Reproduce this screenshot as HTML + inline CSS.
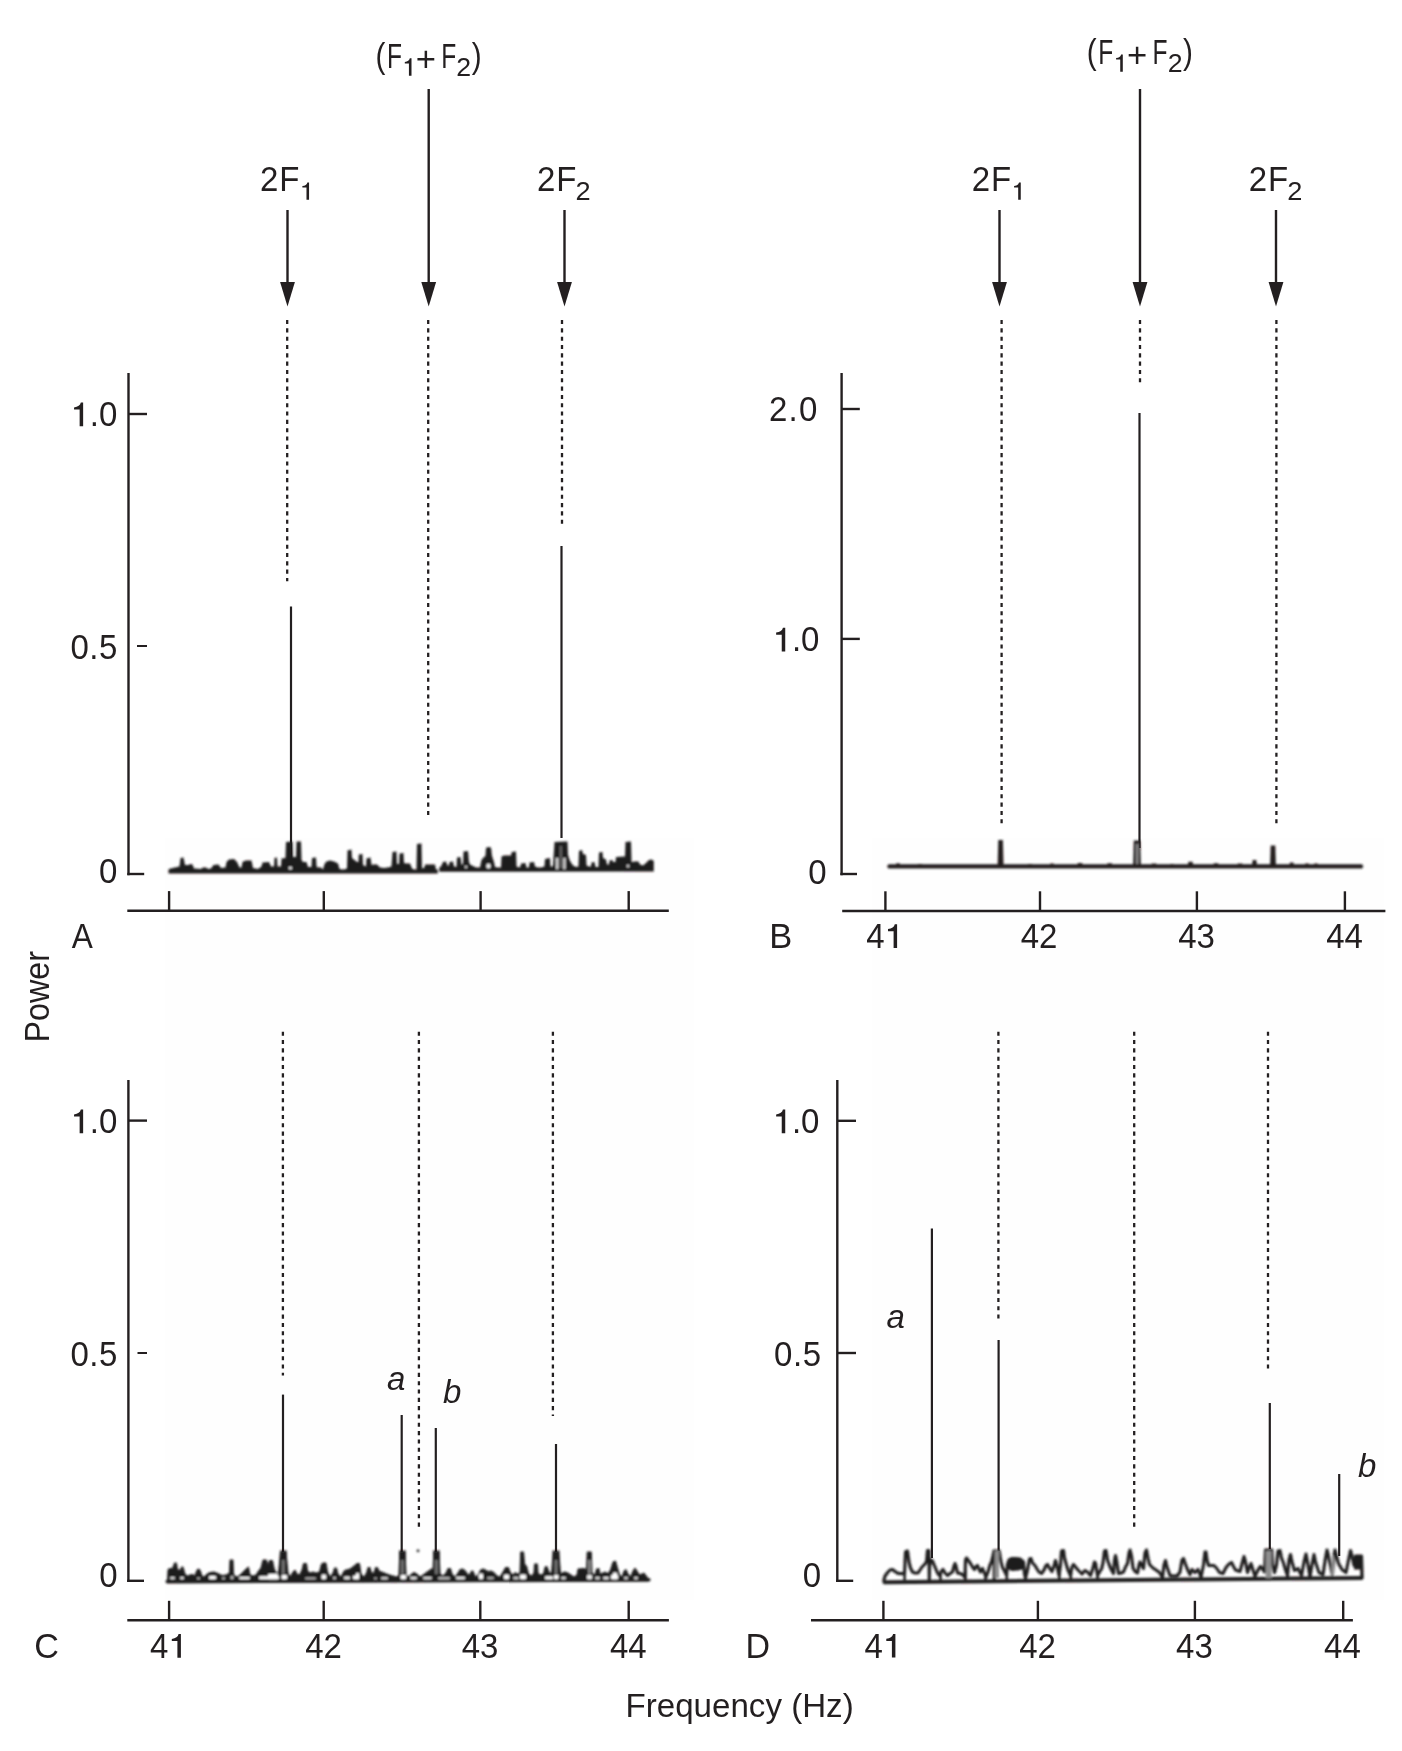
<!DOCTYPE html>
<html><head><meta charset="utf-8"><title>Power spectra</title>
<style>
html,body{margin:0;padding:0;background:#fff;}
body{width:1402px;height:1751px;overflow:hidden;font-family:"Liberation Sans",sans-serif;}
svg{display:block;will-change:transform;}
svg text{font-family:"Liberation Sans",sans-serif;fill:#231f20;}
</style></head><body>
<svg width="1402" height="1751" viewBox="0 0 1402 1751">
<rect x="165" y="838" width="529" height="762" fill="#fefefe"/>
<rect x="872" y="838" width="512" height="762" fill="#fefefe"/>
<line x1="128.5" y1="373" x2="128.5" y2="875.2" stroke="#231f20" stroke-width="2.4" />
<line x1="128.5" y1="414" x2="147" y2="414" stroke="#231f20" stroke-width="2.4" />
<line x1="137" y1="646" x2="147" y2="646" stroke="#231f20" stroke-width="2.0" />
<line x1="127.3" y1="874" x2="144.2" y2="874" stroke="#231f20" stroke-width="2.4" />
<line x1="127.3" y1="910.8" x2="668.8" y2="910.8" stroke="#231f20" stroke-width="2.4" />
<line x1="169.1" y1="891.1" x2="169.1" y2="910.7" stroke="#231f20" stroke-width="2.4" />
<line x1="323.8" y1="891.1" x2="323.8" y2="910.7" stroke="#231f20" stroke-width="2.4" />
<line x1="480.6" y1="891.1" x2="480.6" y2="910.7" stroke="#231f20" stroke-width="2.4" />
<line x1="628.7" y1="891.1" x2="628.7" y2="910.7" stroke="#231f20" stroke-width="2.4" />
<path transform="translate(83.13999999999999 426.2) scale(1.0)" d="M0,0 L0,-23.7 L-2.3,-23.7 Q-3.3,-19.5 -9.1,-18.8 L-9.1,-16.7 L-3.5,-16.7 L-3.5,0 Z" fill="#231f20"/>
<text x="89.87" y="426.2" font-size="34.32" text-anchor="start" transform="translate(89.87 426.2) scale(0.9615 1) translate(-89.87 -426.2)"  style="">.0</text>
<text x="70.41" y="658.6" font-size="34.32" text-anchor="start" transform="translate(70.41 658.6) scale(0.9615 1) translate(-70.41 -658.6)"  letter-spacing="0.6" style="">0.5</text>
<text x="99.04" y="883.4" font-size="34.32" text-anchor="start" transform="translate(99.04 883.4) scale(0.9615 1) translate(-99.04 -883.4)"  style="">0</text>
<text x="71.74" y="948.2" font-size="34.32" text-anchor="start" transform="translate(71.74 948.2) scale(0.9212 1) translate(-71.74 -948.2)"  style="">A</text>
<line x1="841.6" y1="373" x2="841.6" y2="875.2" stroke="#231f20" stroke-width="2.4" />
<line x1="841.6" y1="409" x2="859.8" y2="409" stroke="#231f20" stroke-width="2.4" />
<line x1="841.6" y1="638.9" x2="859.8" y2="638.9" stroke="#231f20" stroke-width="2.4" />
<line x1="840.4" y1="874" x2="857" y2="874" stroke="#231f20" stroke-width="2.4" />
<line x1="842.2" y1="911" x2="1385.4" y2="911" stroke="#231f20" stroke-width="2.4" />
<line x1="885.4" y1="891.3" x2="885.4" y2="911" stroke="#231f20" stroke-width="2.4" />
<line x1="1040" y1="891.3" x2="1040" y2="911" stroke="#231f20" stroke-width="2.4" />
<line x1="1196.9" y1="891.3" x2="1196.9" y2="911" stroke="#231f20" stroke-width="2.4" />
<line x1="1344.9" y1="891.3" x2="1344.9" y2="911" stroke="#231f20" stroke-width="2.4" />
<text x="769.11" y="421.4" font-size="34.32" text-anchor="start" transform="translate(769.11 421.4) scale(0.9615 1) translate(-769.11 -421.4)"  letter-spacing="1.2" style="">2.0</text>
<path transform="translate(785.24 651.4) scale(1.0)" d="M0,0 L0,-23.7 L-2.3,-23.7 Q-3.3,-19.5 -9.1,-18.8 L-9.1,-16.7 L-3.5,-16.7 L-3.5,0 Z" fill="#231f20"/>
<text x="791.97" y="651.4" font-size="34.32" text-anchor="start" transform="translate(791.97 651.4) scale(0.9615 1) translate(-791.97 -651.4)"  style="">.0</text>
<text x="808.34" y="883.7" font-size="34.32" text-anchor="start" transform="translate(808.34 883.7) scale(0.9615 1) translate(-808.34 -883.7)"  style="">0</text>
<text x="769.17" y="947.9" font-size="34.32" text-anchor="start" transform="translate(769.17 947.9) scale(1.0048 1) translate(-769.17 -947.9)"  style="">B</text>
<text x="866.14" y="947.9" font-size="34.32" text-anchor="start" transform="translate(866.14 947.9) scale(0.9615 1) translate(-866.14 -947.9)"  style="">4</text>
<path transform="translate(897.1 947.9) scale(1.0)" d="M0,0 L0,-23.7 L-2.3,-23.7 Q-3.3,-19.5 -9.1,-18.8 L-9.1,-16.7 L-3.5,-16.7 L-3.5,0 Z" fill="#231f20"/>
<text x="1039" y="947.9" font-size="34.32" text-anchor="middle" transform="translate(1039 947.9) scale(0.9615 1) translate(-1039 -947.9)"  style="">42</text>
<text x="1196.5" y="947.9" font-size="34.32" text-anchor="middle" transform="translate(1196.5 947.9) scale(0.9615 1) translate(-1196.5 -947.9)"  style="">43</text>
<text x="1344.5" y="947.9" font-size="34.32" text-anchor="middle" transform="translate(1344.5 947.9) scale(0.9615 1) translate(-1344.5 -947.9)"  style="">44</text>
<line x1="128.4" y1="1080" x2="128.4" y2="1582.0" stroke="#231f20" stroke-width="2.4" />
<line x1="128.4" y1="1120.6" x2="147" y2="1120.6" stroke="#231f20" stroke-width="2.4" />
<line x1="137.5" y1="1353" x2="147" y2="1353" stroke="#231f20" stroke-width="2.0" />
<line x1="127.2" y1="1580.8" x2="144" y2="1580.8" stroke="#231f20" stroke-width="2.4" />
<line x1="127.3" y1="1620.3" x2="668.9" y2="1620.3" stroke="#231f20" stroke-width="2.4" />
<line x1="169.1" y1="1600.8" x2="169.1" y2="1620.3" stroke="#231f20" stroke-width="2.4" />
<line x1="323.7" y1="1600.8" x2="323.7" y2="1620.3" stroke="#231f20" stroke-width="2.4" />
<line x1="480.3" y1="1600.8" x2="480.3" y2="1620.3" stroke="#231f20" stroke-width="2.4" />
<line x1="628.7" y1="1600.8" x2="628.7" y2="1620.3" stroke="#231f20" stroke-width="2.4" />
<path transform="translate(83.13999999999999 1133.2) scale(1.0)" d="M0,0 L0,-23.7 L-2.3,-23.7 Q-3.3,-19.5 -9.1,-18.8 L-9.1,-16.7 L-3.5,-16.7 L-3.5,0 Z" fill="#231f20"/>
<text x="89.87" y="1133.2" font-size="34.32" text-anchor="start" transform="translate(89.87 1133.2) scale(0.9615 1) translate(-89.87 -1133.2)"  style="">.0</text>
<text x="70.41" y="1365.6" font-size="34.32" text-anchor="start" transform="translate(70.41 1365.6) scale(0.9615 1) translate(-70.41 -1365.6)"  letter-spacing="0.6" style="">0.5</text>
<text x="99.24" y="1587.5" font-size="34.32" text-anchor="start" transform="translate(99.24 1587.5) scale(0.9615 1) translate(-99.24 -1587.5)"  style="">0</text>
<text x="34.17" y="1658" font-size="34.32" text-anchor="start" transform="translate(34.17 1658) scale(0.9952 1) translate(-34.17 -1658)"  style="">C</text>
<text x="149.94" y="1657.7" font-size="34.32" text-anchor="start" transform="translate(149.94 1657.7) scale(0.9615 1) translate(-149.94 -1657.7)"  style="">4</text>
<path transform="translate(180.89999999999998 1657.7) scale(1.0)" d="M0,0 L0,-23.7 L-2.3,-23.7 Q-3.3,-19.5 -9.1,-18.8 L-9.1,-16.7 L-3.5,-16.7 L-3.5,0 Z" fill="#231f20"/>
<text x="323.5" y="1657.7" font-size="34.32" text-anchor="middle" transform="translate(323.5 1657.7) scale(0.9615 1) translate(-323.5 -1657.7)"  style="">42</text>
<text x="480" y="1657.7" font-size="34.32" text-anchor="middle" transform="translate(480 1657.7) scale(0.9615 1) translate(-480 -1657.7)"  style="">43</text>
<text x="628.3" y="1657.7" font-size="34.32" text-anchor="middle" transform="translate(628.3 1657.7) scale(0.9615 1) translate(-628.3 -1657.7)"  style="">44</text>
<line x1="837.3" y1="1080" x2="837.3" y2="1582.0" stroke="#231f20" stroke-width="2.4" />
<line x1="837.3" y1="1120.8" x2="856" y2="1120.8" stroke="#231f20" stroke-width="2.4" />
<line x1="837.3" y1="1353" x2="856" y2="1353" stroke="#231f20" stroke-width="2.4" />
<line x1="836.1" y1="1580.8" x2="853.2" y2="1580.8" stroke="#231f20" stroke-width="2.4" />
<line x1="811" y1="1620.3" x2="1352.9" y2="1620.3" stroke="#231f20" stroke-width="2.4" />
<line x1="883.4" y1="1600.8" x2="883.4" y2="1620.3" stroke="#231f20" stroke-width="2.4" />
<line x1="1037.9" y1="1600.8" x2="1037.9" y2="1620.3" stroke="#231f20" stroke-width="2.4" />
<line x1="1194.9" y1="1600.8" x2="1194.9" y2="1620.3" stroke="#231f20" stroke-width="2.4" />
<line x1="1343.2" y1="1600.8" x2="1343.2" y2="1620.3" stroke="#231f20" stroke-width="2.4" />
<path transform="translate(785.24 1133.2) scale(1.0)" d="M0,0 L0,-23.7 L-2.3,-23.7 Q-3.3,-19.5 -9.1,-18.8 L-9.1,-16.7 L-3.5,-16.7 L-3.5,0 Z" fill="#231f20"/>
<text x="791.97" y="1133.2" font-size="34.32" text-anchor="start" transform="translate(791.97 1133.2) scale(0.9615 1) translate(-791.97 -1133.2)"  style="">.0</text>
<text x="774.11" y="1365.6" font-size="34.32" text-anchor="start" transform="translate(774.11 1365.6) scale(0.9615 1) translate(-774.11 -1365.6)"  letter-spacing="0.6" style="">0.5</text>
<text x="802.64" y="1587.5" font-size="34.32" text-anchor="start" transform="translate(802.64 1587.5) scale(0.9615 1) translate(-802.64 -1587.5)"  style="">0</text>
<text x="745.61" y="1657.7" font-size="34.32" text-anchor="start" transform="translate(745.61 1657.7) scale(0.9904 1) translate(-745.61 -1657.7)"  style="">D</text>
<text x="864.44" y="1657.6" font-size="34.32" text-anchor="start" transform="translate(864.44 1657.6) scale(0.9615 1) translate(-864.44 -1657.6)"  style="">4</text>
<path transform="translate(895.4000000000001 1657.6) scale(1.0)" d="M0,0 L0,-23.7 L-2.3,-23.7 Q-3.3,-19.5 -9.1,-18.8 L-9.1,-16.7 L-3.5,-16.7 L-3.5,0 Z" fill="#231f20"/>
<text x="1037.6" y="1657.6" font-size="34.32" text-anchor="middle" transform="translate(1037.6 1657.6) scale(0.9615 1) translate(-1037.6 -1657.6)"  style="">42</text>
<text x="1194.4" y="1657.6" font-size="34.32" text-anchor="middle" transform="translate(1194.4 1657.6) scale(0.9615 1) translate(-1194.4 -1657.6)"  style="">43</text>
<text x="1342.4" y="1657.6" font-size="34.32" text-anchor="middle" transform="translate(1342.4 1657.6) scale(0.9615 1) translate(-1342.4 -1657.6)"  style="">44</text>
<line x1="287.5" y1="210" x2="287.5" y2="284.5" stroke="#231f20" stroke-width="2.4" />
<polygon points="280.1,282.1 294.9,282.1 287.5,306.5" fill="#231f20"/>
<line x1="428.7" y1="89" x2="428.7" y2="284.5" stroke="#231f20" stroke-width="2.4" />
<polygon points="421.3,282.1 436.09999999999997,282.1 428.7,306.5" fill="#231f20"/>
<line x1="564.5" y1="210" x2="564.5" y2="284.5" stroke="#231f20" stroke-width="2.4" />
<polygon points="557.1,282.1 571.9,282.1 564.5,306.5" fill="#231f20"/>
<line x1="999.5" y1="210" x2="999.5" y2="284.5" stroke="#231f20" stroke-width="2.4" />
<polygon points="992.1,282.1 1006.9,282.1 999.5,306.5" fill="#231f20"/>
<line x1="1140" y1="89" x2="1140" y2="284.5" stroke="#231f20" stroke-width="2.4" />
<polygon points="1132.6,282.1 1147.4,282.1 1140,306.5" fill="#231f20"/>
<line x1="1276" y1="210" x2="1276" y2="284.5" stroke="#231f20" stroke-width="2.4" />
<polygon points="1268.6,282.1 1283.4,282.1 1276,306.5" fill="#231f20"/>
<text x="260.04" y="190.9" font-size="34.32" text-anchor="start" transform="translate(260.04 190.9) scale(0.9615 1) translate(-260.04 -190.9)" letter-spacing="1" style="">2F</text>
<path transform="translate(309.06 199.8) scale(0.734)" d="M0,0 L0,-23.7 L-2.3,-23.7 Q-3.3,-19.5 -9.1,-18.8 L-9.1,-16.7 L-3.5,-16.7 L-3.5,0 Z" fill="#231f20"/>
<text x="537.04" y="190.9" font-size="34.32" text-anchor="start" transform="translate(537.04 190.9) scale(0.9615 1) translate(-537.04 -190.9)" letter-spacing="1" style="">2F</text>
<text x="575.53" y="199.8" font-size="25.27" text-anchor="start" transform="translate(575.53 199.8) scale(1.0769 1) translate(-575.53 -199.8)"  style="">2</text>
<text x="375.46" y="67.8" font-size="34.32" text-anchor="start" transform="translate(375.46 67.8) scale(0.8654 1) translate(-375.46 -67.8)"  style="">(</text>
<text x="386.98" y="67.8" font-size="34.32" text-anchor="start" transform="translate(386.98 67.8) scale(0.7163 1) translate(-386.98 -67.8)"  style="">F</text>
<path transform="translate(411.5 75.7) scale(0.735)" d="M0,0 L0,-23.7 L-2.3,-23.7 Q-3.3,-19.5 -9.1,-18.8 L-9.1,-16.7 L-3.5,-16.7 L-3.5,0 Z" fill="#231f20"/>
<text x="415.81" y="70.7" font-size="34.32" text-anchor="start" transform="translate(415.81 70.7) scale(1.0096 1) translate(-415.81 -70.7)"  style="">+</text>
<text x="441.18" y="67.8" font-size="34.32" text-anchor="start" transform="translate(441.18 67.8) scale(0.7163 1) translate(-441.18 -67.8)"  style="">F</text>
<text x="456.36" y="75.7" font-size="25.27" text-anchor="start" transform="translate(456.36 75.7) scale(1.0577 1) translate(-456.36 -75.7)"  style="">2</text>
<text x="471.65" y="67.8" font-size="34.32" text-anchor="start" transform="translate(471.65 67.8) scale(0.8654 1) translate(-471.65 -67.8)"  style="">)</text>
<text x="971.74" y="190.9" font-size="34.32" text-anchor="start" transform="translate(971.74 190.9) scale(0.9615 1) translate(-971.74 -190.9)" letter-spacing="1" style="">2F</text>
<path transform="translate(1020.76 199.8) scale(0.734)" d="M0,0 L0,-23.7 L-2.3,-23.7 Q-3.3,-19.5 -9.1,-18.8 L-9.1,-16.7 L-3.5,-16.7 L-3.5,0 Z" fill="#231f20"/>
<text x="1248.64" y="190.9" font-size="34.32" text-anchor="start" transform="translate(1248.64 190.9) scale(0.9615 1) translate(-1248.64 -190.9)" letter-spacing="1" style="">2F</text>
<text x="1287.13" y="199.8" font-size="25.27" text-anchor="start" transform="translate(1287.13 199.8) scale(1.0769 1) translate(-1287.13 -199.8)"  style="">2</text>
<text x="1086.76" y="63.9" font-size="34.32" text-anchor="start" transform="translate(1086.76 63.9) scale(0.8654 1) translate(-1086.76 -63.9)"  style="">(</text>
<text x="1098.28" y="63.9" font-size="34.32" text-anchor="start" transform="translate(1098.28 63.9) scale(0.7163 1) translate(-1098.28 -63.9)"  style="">F</text>
<path transform="translate(1122.8 71.8) scale(0.735)" d="M0,0 L0,-23.7 L-2.3,-23.7 Q-3.3,-19.5 -9.1,-18.8 L-9.1,-16.7 L-3.5,-16.7 L-3.5,0 Z" fill="#231f20"/>
<text x="1127.11" y="66.8" font-size="34.32" text-anchor="start" transform="translate(1127.11 66.8) scale(1.0096 1) translate(-1127.11 -66.8)"  style="">+</text>
<text x="1152.48" y="63.9" font-size="34.32" text-anchor="start" transform="translate(1152.48 63.9) scale(0.7163 1) translate(-1152.48 -63.9)"  style="">F</text>
<text x="1167.66" y="71.8" font-size="25.27" text-anchor="start" transform="translate(1167.66 71.8) scale(1.0577 1) translate(-1167.66 -71.8)"  style="">2</text>
<text x="1182.95" y="63.9" font-size="34.32" text-anchor="start" transform="translate(1182.95 63.9) scale(0.8654 1) translate(-1182.95 -63.9)"  style="">)</text>
<line x1="287.2" y1="320" x2="287.2" y2="581.3" stroke="#231f20" stroke-width="2.3" stroke-dasharray="4.1 4.22"/>
<line x1="428.2" y1="320" x2="428.2" y2="816" stroke="#231f20" stroke-width="2.3" stroke-dasharray="4.1 4.22"/>
<line x1="562" y1="320" x2="562" y2="524.6" stroke="#231f20" stroke-width="2.3" stroke-dasharray="4.1 4.22"/>
<line x1="1001.6" y1="320" x2="1001.6" y2="824" stroke="#231f20" stroke-width="2.3" stroke-dasharray="4.1 4.22"/>
<line x1="1140" y1="320" x2="1140" y2="382.8" stroke="#231f20" stroke-width="2.3" stroke-dasharray="4.1 4.22"/>
<line x1="1276.4" y1="320" x2="1276.4" y2="824" stroke="#231f20" stroke-width="2.3" stroke-dasharray="4.1 4.22"/>
<line x1="282.9" y1="1031.7" x2="282.9" y2="1375.6" stroke="#231f20" stroke-width="2.3" stroke-dasharray="4.1 4.22"/>
<line x1="418.9" y1="1031.7" x2="418.9" y2="1527.6" stroke="#231f20" stroke-width="2.3" stroke-dasharray="4.1 4.22"/>
<line x1="552.9" y1="1031.7" x2="552.9" y2="1416" stroke="#231f20" stroke-width="2.3" stroke-dasharray="4.1 4.22"/>
<line x1="998.4" y1="1031.7" x2="998.4" y2="1318.6" stroke="#231f20" stroke-width="2.3" stroke-dasharray="4.1 4.22"/>
<line x1="1134.2" y1="1031.7" x2="1134.2" y2="1527.6" stroke="#231f20" stroke-width="2.3" stroke-dasharray="4.1 4.22"/>
<line x1="1268" y1="1031.7" x2="1268" y2="1369.4" stroke="#231f20" stroke-width="2.3" stroke-dasharray="4.1 4.22"/>
<line x1="291" y1="606.5" x2="291" y2="860" stroke="#231f20" stroke-width="2.2" />
<line x1="561.5" y1="546" x2="561.5" y2="838" stroke="#231f20" stroke-width="2.2" />
<line x1="1139.5" y1="413" x2="1139.5" y2="848" stroke="#231f20" stroke-width="2.2" />
<line x1="283.0" y1="1394.6" x2="283.0" y2="1552" stroke="#231f20" stroke-width="2.2" />
<line x1="401.7" y1="1415" x2="401.7" y2="1552" stroke="#231f20" stroke-width="2.2" />
<line x1="435.8" y1="1428" x2="435.8" y2="1552" stroke="#231f20" stroke-width="2.2" />
<line x1="556" y1="1444" x2="556" y2="1552" stroke="#231f20" stroke-width="2.2" />
<line x1="931.9" y1="1228.5" x2="931.9" y2="1558" stroke="#231f20" stroke-width="2.2" />
<line x1="998.6" y1="1340" x2="998.6" y2="1551" stroke="#231f20" stroke-width="2.2" />
<line x1="1269.8" y1="1403" x2="1269.8" y2="1549" stroke="#231f20" stroke-width="2.2" />
<line x1="1339.2" y1="1474" x2="1339.2" y2="1556" stroke="#231f20" stroke-width="2.2" />
<text x="387" y="1390" font-size="33" text-anchor="start" transform="translate(387 1390) scale(1.0 1) translate(-387 -1390)"  style="font-style:italic">a</text>
<text x="443" y="1402.5" font-size="33" text-anchor="start" transform="translate(443 1402.5) scale(1.0 1) translate(-443 -1402.5)"  style="font-style:italic">b</text>
<text x="886.4" y="1328" font-size="33" text-anchor="start" transform="translate(886.4 1328) scale(1.0 1) translate(-886.4 -1328)"  style="font-style:italic">a</text>
<text x="1358" y="1477.2" font-size="33" text-anchor="start" transform="translate(1358 1477.2) scale(1.0 1) translate(-1358 -1477.2)"  style="font-style:italic">b</text>
<text x="49.4" y="996.8" font-size="34.32" text-anchor="middle" transform="rotate(-90 49.4 996.8) translate(49.4 996.8) scale(0.9423 1) translate(-49.4 -996.8)"  style="">Power</text>
<text x="739.6" y="1716.8" font-size="33.4" text-anchor="middle" transform="translate(739.6 1716.8) scale(0.9921 1) translate(-739.6 -1716.8)"  style="">Frequency (Hz)</text>
<defs><filter id="soft" x="-2%" y="-20%" width="104%" height="140%"><feGaussianBlur stdDeviation="0.8"/></filter></defs>
<g filter="url(#soft)"><polygon points="168.5,869.6 170.5,868.5 179.5,866.5 180.5,858.0 183.5,857.5 185.0,865.0 189.0,865.0 190.0,864.0 192.5,864.5 194.0,868.5 201.0,869.0 203.0,867.5 206.0,867.5 208.0,869.0 211.0,868.5 213.5,865.0 218.5,864.5 221.0,868.0 225.5,867.5 226.5,862.0 229.0,859.5 234.0,859.0 237.0,862.0 239.5,867.5 241.5,867.5 242.5,862.0 244.5,861.0 246.0,860.5 251.5,860.5 253.0,868.0 258.0,869.0 261.5,866.5 262.5,862.5 269.0,862.0 271.0,866.5 274.0,866.5 274.5,858.0 277.0,857.5 277.5,866.5 281.0,866.5 281.5,858.5 285.5,858.0 286.0,842.0 292.5,841.5 293.0,857.0 296.0,857.0 296.5,841.5 301.0,841.5 301.5,860.0 303.0,862.0 306.5,862.0 308.0,867.0 311.5,867.0 312.0,858.0 316.0,857.5 316.5,866.5 318.0,867.5 321.0,867.5 323.0,869.5 324.5,864.0 326.5,861.5 330.0,860.5 334.0,861.5 338.0,863.5 339.5,869.0 342.0,869.6 344.0,869.5 347.0,868.5 347.5,850.5 351.5,849.5 352.0,858.0 354.5,860.0 357.0,862.0 358.5,862.0 358.8,854.5 362.5,854.0 363.0,865.0 366.0,866.5 366.5,858.5 370.5,857.5 371.5,865.0 374.0,864.5 377.0,864.5 380.0,867.5 384.0,868.0 388.0,867.5 391.5,866.5 392.5,852.0 396.5,851.5 397.0,864.0 399.0,864.0 399.5,853.5 403.5,853.0 404.0,863.0 406.0,863.5 410.0,863.5 412.0,868.5 414.0,869.6 416.5,869.5 417.0,844.0 421.5,843.5 422.0,868.5 424.5,867.5 425.0,864.5 435.0,864.5 436.0,869.5 437.8,869.6 437.8,873.6 168.5,873.6" fill="#1f1b1c"/>
<polygon points="439.3,867.4 441.0,866.4 443.0,862.0 446.0,861.5 447.5,865.4 449.0,865.4 449.5,862.0 453.0,861.5 454.0,866.4 456.5,866.9 457.0,857.5 460.5,857.0 461.5,864.4 463.0,864.4 463.5,851.5 468.0,851.0 469.0,862.0 470.0,864.4 473.0,865.9 476.0,867.4 480.0,867.4 481.5,860.0 483.5,857.5 485.5,856.0 486.0,848.0 488.0,847.0 491.0,847.5 492.0,856.0 494.0,862.0 495.0,866.9 498.0,867.4 501.0,867.4 501.5,856.5 504.0,855.5 511.0,855.5 511.8,852.0 516.0,851.5 516.5,866.4 519.0,867.4 520.5,866.4 521.0,863.5 525.5,863.0 526.5,867.4 529.0,867.4 529.5,862.5 534.0,862.0 535.0,866.4 538.0,867.4 541.0,867.4 544.5,866.4 545.0,859.0 550.0,858.0 550.5,866.4 553.0,866.4 554.5,842.0 567.5,841.5 568.0,855.0 570.0,861.0 573.0,865.4 576.0,866.9 578.5,866.4 579.0,851.0 582.0,850.0 583.0,854.0 586.0,855.0 586.5,865.4 589.0,866.4 591.0,866.4 591.5,862.5 594.5,862.0 595.5,866.9 598.5,866.9 599.0,852.5 602.5,852.0 603.0,858.0 606.0,859.5 607.0,864.4 609.0,864.4 609.5,860.5 612.5,860.0 613.0,862.0 615.5,862.0 616.0,857.0 625.0,856.5 625.5,842.0 631.0,841.5 631.5,862.0 633.0,862.0 634.0,861.5 638.5,861.5 640.0,864.4 643.0,865.4 646.0,863.0 649.0,860.0 651.5,859.5 653.8,861.0 653.8,871.6 439.3,871.8" fill="#1f1b1c"/>
<ellipse cx="290.3" cy="868" rx="1.8" ry="1.6" fill="#e8e8e8"/>
<ellipse cx="488.5" cy="866" rx="2.2" ry="2.6" fill="#f2f2f2"/>
<ellipse cx="628" cy="866" rx="1.5" ry="1.5" fill="#cfcfcf"/>
<ellipse cx="466" cy="867" rx="1.3" ry="1.3" fill="#cfcfcf"/>
<rect x="556" y="858" width="2.4" height="11" fill="#d8d8d8"/>
<rect x="563.2" y="858" width="2.4" height="11" fill="#d8d8d8"/>
<rect x="559.8" y="846" width="2" height="22" fill="#6a6a6a"/>
</g>
<g filter="url(#soft)"><polygon points="887.0,866.4 888.5,864.3 895.9,864.3 896.5,863.2 899.5,863.2 900.1,864.3 917.4,864.3 918.0,864.1 922.0,864.1 922.6,864.3 942.4,864.3 943.0,864.2 947.0,864.2 947.6,864.3 997.7,864.3 998.3,840.0 1002.9,840.0 1003.5,864.3 1027.4,864.3 1028.0,864.0 1032.0,864.0 1032.6,864.3 1049.9,864.3 1050.5,863.6 1053.5,863.6 1054.1,864.3 1077.4,864.3 1078.0,863.0 1082.0,863.0 1082.6,864.3 1107.1,864.3 1107.7,863.2 1111.7,863.2 1112.3,864.3 1133.2,864.3 1133.8,840.5 1140.2,840.5 1140.8,864.3 1151.4,864.3 1152.0,863.4 1156.0,863.4 1156.6,864.3 1169.9,864.3 1170.5,864.0 1173.5,864.0 1174.1,864.3 1187.9,864.3 1188.5,861.8 1192.5,861.8 1193.1,864.3 1213.4,864.3 1214.0,863.2 1218.0,863.2 1218.6,864.3 1237.4,864.3 1238.0,863.4 1242.0,863.4 1242.6,864.3 1252.1,864.3 1252.7,860.0 1256.3,860.0 1256.9,864.3 1270.1,864.3 1270.7,845.6 1275.3,845.6 1275.9,864.3 1289.5,864.3 1290.1,862.4 1293.3,862.4 1293.9,864.3 1304.8,864.3 1305.4,863.4 1308.6,863.4 1309.2,864.3 1314.0,864.3 1314.6,863.6 1317.4,863.6 1318.0,864.3 1362.0,864.3 1363.4,866.4 1362.0,868.6 888.5,868.6" fill="#221e1f"/>
<rect x="1136.2" y="844" width="1.8" height="20" fill="#9a9a9a"/>
</g>
<g filter="url(#soft)">
<line x1="167.3" y1="1581.6" x2="648.8" y2="1579.8" stroke="#1f1b1c" stroke-width="3.6" stroke-linecap="round"/>
<polygon points="167.6,1580.0 168.0,1569.5 170.0,1568.5 172.5,1568.5 174.5,1563.0 176.5,1563.0 177.5,1570.0 180.5,1570.0 181.5,1567.0 183.0,1567.0 185.0,1574.0 187.0,1576.0 190.0,1575.0 192.0,1574.5 195.0,1575.5 197.0,1570.0 198.5,1569.0 200.0,1570.0 202.0,1576.0 204.0,1577.0 207.0,1574.0 210.0,1572.5 214.0,1572.0 218.0,1573.5 222.0,1575.5 226.0,1575.0 229.5,1573.0 230.0,1560.0 233.0,1560.0 233.5,1574.0 236.0,1577.0 239.0,1576.0 243.0,1572.0 246.0,1569.0 248.5,1567.0 250.0,1575.0 253.0,1576.0 256.0,1575.0 258.5,1571.0 261.0,1568.0 263.0,1560.0 266.5,1560.0 268.0,1566.0 269.5,1560.5 272.5,1560.5 274.0,1568.0 276.0,1573.0 278.5,1573.0 280.5,1552.0 286.0,1552.0 288.0,1573.0 290.0,1577.0 293.0,1572.0 295.0,1570.0 297.0,1574.0 299.5,1575.0 302.0,1570.0 303.5,1563.5 306.5,1563.5 307.5,1571.0 310.0,1573.0 313.0,1572.0 316.0,1573.0 319.5,1572.0 321.5,1564.0 323.0,1563.0 326.0,1563.0 327.5,1572.0 330.0,1577.0 333.0,1573.0 334.5,1568.0 336.5,1568.0 338.0,1574.0 341.0,1577.0 344.0,1571.0 346.0,1570.0 350.0,1569.0 354.0,1566.0 357.0,1563.5 359.5,1563.5 361.0,1574.0 364.0,1577.0 366.5,1573.0 368.0,1567.5 370.0,1567.5 371.5,1573.0 374.0,1573.0 375.5,1567.5 377.5,1567.5 379.0,1571.0 383.0,1572.5 388.0,1574.5 393.0,1576.0 397.0,1577.0 399.0,1575.0 399.8,1552.0 405.0,1552.0 406.0,1575.0 409.0,1577.0 411.5,1574.0 414.0,1572.5 417.0,1574.0 420.0,1577.0 423.0,1575.0 427.0,1572.0 430.0,1570.0 432.0,1568.5 433.0,1572.0 433.8,1552.0 439.0,1552.0 440.0,1574.0 443.0,1576.0 446.0,1573.0 448.0,1568.5 450.5,1568.5 452.0,1574.0 455.0,1577.0 458.0,1573.0 460.0,1569.5 463.0,1569.0 465.5,1571.0 468.0,1575.0 470.0,1574.0 471.5,1571.0 473.0,1571.0 474.5,1575.0 476.5,1577.0 479.0,1573.0 481.0,1569.5 484.0,1569.0 486.0,1570.5 488.5,1571.5 491.0,1571.0 494.0,1572.5 497.0,1576.0 500.0,1577.0 503.0,1572.0 505.5,1567.5 508.5,1567.5 510.5,1573.0 513.0,1575.0 515.0,1572.5 517.5,1574.0 520.0,1573.0 520.7,1552.0 523.6,1552.0 524.5,1564.0 526.5,1566.0 528.5,1574.0 531.5,1576.0 534.0,1573.0 534.5,1564.0 537.5,1564.0 538.0,1573.0 540.0,1575.0 543.5,1574.0 545.0,1567.0 547.0,1566.5 549.0,1572.0 551.5,1574.0 553.2,1552.0 558.8,1552.0 560.5,1574.0 563.0,1572.5 565.0,1572.0 568.0,1573.0 571.0,1575.0 574.0,1577.0 577.0,1575.0 578.0,1569.0 585.0,1568.5 586.5,1572.0 587.2,1552.0 591.3,1552.0 592.0,1573.0 595.0,1575.0 596.5,1569.0 599.0,1568.5 600.0,1574.0 603.0,1573.0 605.0,1572.0 608.0,1573.5 610.5,1570.0 613.0,1562.0 615.5,1561.0 617.5,1568.0 619.5,1575.0 622.0,1577.0 624.0,1571.0 626.0,1569.5 628.0,1574.0 630.5,1577.0 633.0,1571.0 635.0,1568.0 637.0,1571.0 639.5,1575.0 642.0,1574.0 644.0,1573.0 647.0,1577.0 648.6,1580.0 648.6,1581.0 167.6,1582.5" fill="#1f1b1c" stroke="#1f1b1c" stroke-width="1.0" stroke-linejoin="round"/>
<rect x="279.90000000000003" y="1550.5" width="6.8" height="29" fill="#1f1b1c"/>
<rect x="282.0" y="1560" width="2.6" height="14" fill="#777"/>
<rect x="399.0" y="1550.5" width="6.8" height="29" fill="#1f1b1c"/>
<rect x="401.09999999999997" y="1560" width="2.6" height="14" fill="#777"/>
<rect x="433.0" y="1550.5" width="6.8" height="29" fill="#1f1b1c"/>
<rect x="435.09999999999997" y="1560" width="2.6" height="14" fill="#777"/>
<rect x="552.6" y="1550.5" width="6.8" height="29" fill="#1f1b1c"/>
<rect x="554.7" y="1560" width="2.6" height="14" fill="#777"/>
<rect x="588.3" y="1560" width="2.2" height="14" fill="#9a9a9a"/>
<circle cx="418" cy="1550.7" r="1.5" fill="#3a3a3a"/>
<rect x="170" y="1577" width="5" height="2.2" rx="1.2" fill="#ddd"/>
<rect x="180" y="1577" width="4" height="2.2" rx="1.2" fill="#eee"/>
<rect x="197" y="1577.5" width="3" height="1.7" rx="1.2" fill="#ccc"/>
<rect x="209" y="1576" width="7" height="3.2" rx="1.2" fill="#fff"/>
<rect x="222" y="1577.5" width="3" height="1.7" rx="1.2" fill="#ccc"/>
<rect x="230.5" y="1576" width="3.0" height="3.2" rx="1.2" fill="#bbb"/>
<rect x="239" y="1577" width="11" height="2.2" rx="1.2" fill="#f4f4f4"/>
<rect x="259" y="1576.3" width="20" height="2.9" rx="1.2" fill="#fff"/>
<rect x="268" y="1574" width="10" height="5.2" rx="1.2" fill="#fff"/>
<rect x="281.5" y="1575" width="5.5" height="4.2" rx="1.2" fill="#fff"/>
<rect x="305" y="1577.5" width="11" height="1.7" rx="1.2" fill="#bbb"/>
<rect x="321.5" y="1574.5" width="4.5" height="4.7" rx="1.2" fill="#fff"/>
<rect x="333" y="1577" width="3" height="2.2" rx="1.2" fill="#ddd"/>
<rect x="344" y="1576.5" width="6" height="2.7" rx="1.2" fill="#eee"/>
<rect x="353" y="1575.5" width="6" height="3.7" rx="1.2" fill="#fff"/>
<rect x="356" y="1573" width="3" height="6.2" rx="1.2" fill="#fff"/>
<rect x="374" y="1577.5" width="3" height="1.7" rx="1.2" fill="#bbb"/>
<rect x="381" y="1577.3" width="7" height="1.9" rx="1.2" fill="#e4e4e4"/>
<rect x="400.5" y="1575" width="5.5" height="4.2" rx="1.2" fill="#fff"/>
<rect x="410" y="1577" width="6" height="2.2" rx="1.2" fill="#ddd"/>
<rect x="411" y="1577" width="6" height="2.2" rx="1.2" fill="#e8e8e8"/>
<rect x="423" y="1577" width="9" height="2.2" rx="1.2" fill="#ddd"/>
<rect x="438" y="1577.3" width="12" height="1.9" rx="1.2" fill="#c8c8c8"/>
<rect x="456" y="1576.8" width="9" height="2.4" rx="1.2" fill="#eee"/>
<rect x="479" y="1573.5" width="4" height="5.7" rx="1.2" fill="#fff"/>
<rect x="487" y="1577" width="7" height="2.2" rx="1.2" fill="#aaa"/>
<rect x="504" y="1574.5" width="5" height="4.7" rx="1.2" fill="#fff"/>
<rect x="513" y="1577" width="6" height="2.2" rx="1.2" fill="#ccc"/>
<rect x="520" y="1574.5" width="6" height="4.7" rx="1.2" fill="#fff"/>
<rect x="545" y="1576.3" width="8" height="2.9" rx="1.2" fill="#fff"/>
<rect x="554" y="1575" width="4.5" height="4.2" rx="1.2" fill="#fff"/>
<rect x="561" y="1577" width="5" height="2.2" rx="1.2" fill="#ddd"/>
<rect x="587" y="1575" width="5" height="4.2" rx="1.2" fill="#eee"/>
<rect x="595" y="1577" width="5" height="2.2" rx="1.2" fill="#ddd"/>
<rect x="603" y="1577" width="6" height="2.2" rx="1.2" fill="#eee"/>
<rect x="611" y="1575" width="7" height="4.2" rx="1.2" fill="#fff"/>
<rect x="613" y="1572.5" width="4" height="6.7" rx="1.2" fill="#fff"/>
<rect x="624" y="1577" width="4" height="2.2" rx="1.2" fill="#ddd"/>
<rect x="634" y="1577" width="4" height="2.2" rx="1.2" fill="#e4e4e4"/>
</g>
<g filter="url(#soft)">
<line x1="884.5" y1="1582.2" x2="1361.5" y2="1577.9" stroke="#1f1b1c" stroke-width="4.0" stroke-linecap="round"/>
<polyline points="883.6,1581.5 885.0,1576.0 888.0,1572.0 890.0,1570.0 892.5,1569.5 895.0,1571.5 898.0,1573.4 904.5,1573.6 905.5,1552.0 907.5,1551.0 909.0,1562.0 910.5,1568.0 912.5,1572.0 915.0,1573.0 918.0,1573.0 920.0,1570.0 922.0,1567.0 924.5,1564.5 926.5,1562.0 927.5,1550.5 929.0,1550.5 929.3,1580.0 929.6,1566.0 931.0,1560.0 932.5,1561.0 935.0,1567.0 937.5,1573.0 939.5,1575.5 941.5,1571.0 943.0,1569.5 945.0,1573.0 947.5,1575.5 950.0,1573.5 952.5,1572.0 954.0,1566.0 955.0,1563.5 956.0,1566.0 957.5,1573.0 960.0,1573.5 962.5,1574.5 965.0,1577.5 965.5,1560.0 966.5,1558.0 968.0,1560.0 970.5,1563.5 972.5,1567.0 974.5,1569.5 976.0,1566.5 977.5,1565.5 979.0,1569.0 980.5,1572.0 982.5,1568.5 984.0,1572.0 986.0,1577.0 988.0,1572.0 990.0,1565.0 991.5,1562.0 993.0,1556.0 994.0,1551.0 994.3,1580.0 994.6,1551.0 999.2,1551.0 999.5,1553.0 1001.0,1562.0 1002.5,1567.5 1004.5,1571.0 1006.5,1575.0 1007.5,1564.0 1009.0,1560.0 1012.0,1558.5 1016.0,1558.5 1020.0,1559.0 1023.5,1562.0 1024.5,1574.0 1025.5,1578.0 1027.5,1570.0 1029.5,1559.0 1031.0,1558.5 1032.5,1563.0 1035.0,1565.5 1037.0,1569.0 1039.0,1572.0 1041.5,1573.5 1044.0,1570.0 1046.0,1565.5 1047.5,1564.5 1049.5,1568.0 1052.0,1571.5 1054.0,1566.0 1055.5,1560.5 1057.0,1566.0 1059.0,1575.5 1060.5,1565.0 1061.5,1551.0 1063.5,1550.5 1064.5,1558.0 1066.0,1563.5 1068.0,1570.0 1070.5,1575.5 1072.0,1567.0 1073.5,1564.5 1075.5,1567.0 1078.5,1570.5 1082.0,1574.0 1085.0,1570.5 1087.5,1572.0 1090.5,1575.5 1093.0,1568.0 1094.5,1562.0 1095.5,1563.0 1097.5,1575.5 1099.5,1572.0 1101.5,1569.0 1103.0,1563.0 1104.5,1551.0 1106.0,1550.5 1107.5,1560.0 1109.5,1565.5 1111.5,1570.0 1113.5,1573.5 1114.5,1560.0 1115.5,1555.5 1116.5,1560.0 1118.5,1573.5 1121.0,1573.0 1123.5,1572.0 1125.5,1567.0 1127.5,1563.5 1129.0,1553.0 1130.0,1550.0 1131.5,1556.0 1133.0,1568.0 1135.0,1571.5 1137.5,1573.0 1139.0,1565.0 1140.0,1562.0 1141.5,1565.0 1143.5,1568.5 1145.0,1553.0 1146.5,1550.0 1148.0,1558.0 1149.5,1564.5 1153.0,1568.0 1156.0,1570.0 1159.5,1572.5 1162.5,1577.5 1164.0,1565.0 1165.5,1560.5 1167.0,1567.0 1170.0,1575.5 1174.0,1576.0 1177.5,1575.5 1180.0,1572.0 1182.0,1560.0 1183.5,1558.5 1185.0,1563.0 1187.5,1569.5 1190.0,1574.5 1192.0,1569.5 1195.0,1572.5 1198.0,1569.5 1201.0,1577.0 1203.5,1565.0 1205.0,1552.0 1206.0,1552.0 1207.0,1560.0 1208.5,1565.5 1214.0,1565.5 1216.5,1568.0 1219.5,1572.5 1223.0,1573.5 1226.0,1567.5 1229.0,1564.0 1231.5,1562.5 1233.5,1566.5 1235.5,1570.0 1240.0,1571.5 1242.5,1562.0 1244.0,1556.5 1245.5,1562.0 1247.5,1572.5 1249.5,1567.0 1251.0,1563.5 1253.0,1570.0 1255.0,1576.0 1258.0,1570.0 1260.5,1566.5 1262.5,1569.0 1264.5,1572.0 1265.5,1550.0 1271.8,1550.0 1272.5,1565.0 1274.5,1572.5 1276.5,1565.0 1278.0,1551.0 1280.0,1550.5 1281.5,1558.0 1283.5,1563.0 1285.5,1570.0 1287.5,1575.5 1289.0,1560.0 1290.5,1554.5 1292.0,1562.0 1294.5,1570.5 1298.0,1568.5 1301.5,1575.5 1304.0,1562.0 1306.0,1554.0 1307.5,1562.0 1310.0,1576.5 1312.5,1562.0 1314.0,1554.5 1315.5,1562.0 1319.0,1572.5 1323.0,1574.5 1325.5,1558.0 1327.0,1550.0 1328.5,1556.0 1330.5,1565.5 1332.5,1575.5 1334.0,1556.0 1335.0,1550.0 1336.5,1556.0 1338.5,1563.5 1342.0,1569.5 1346.0,1572.5 1348.5,1560.0 1350.5,1550.5 1352.0,1556.0 1354.0,1565.5 1356.0,1556.0 1361.5,1556.0 1362.2,1578.0" fill="none" stroke="#1f1b1c" stroke-width="3.1" stroke-linejoin="round"/>
<line x1="904.6" y1="1573" x2="904.6" y2="1580" stroke="#1f1b1c" stroke-width="2.6"/>
<line x1="940.5" y1="1574" x2="940.5" y2="1580" stroke="#1f1b1c" stroke-width="2.6"/>
<line x1="965.4" y1="1570" x2="965.4" y2="1580" stroke="#1f1b1c" stroke-width="2.6"/>
<line x1="985.5" y1="1574" x2="985.5" y2="1580" stroke="#1f1b1c" stroke-width="2.6"/>
<line x1="1006.8" y1="1572" x2="1006.8" y2="1580" stroke="#1f1b1c" stroke-width="2.6"/>
<line x1="1025.3" y1="1574" x2="1025.3" y2="1580" stroke="#1f1b1c" stroke-width="2.6"/>
<line x1="1059.3" y1="1572" x2="1059.3" y2="1580" stroke="#1f1b1c" stroke-width="2.6"/>
<line x1="1070.8" y1="1573" x2="1070.8" y2="1580" stroke="#1f1b1c" stroke-width="2.6"/>
<line x1="1097.6" y1="1573" x2="1097.6" y2="1580" stroke="#1f1b1c" stroke-width="2.6"/>
<line x1="1162.5" y1="1574" x2="1162.5" y2="1580" stroke="#1f1b1c" stroke-width="2.6"/>
<line x1="1201" y1="1574" x2="1201" y2="1580" stroke="#1f1b1c" stroke-width="2.6"/>
<line x1="1255" y1="1574" x2="1255" y2="1580" stroke="#1f1b1c" stroke-width="2.6"/>
<line x1="1287.5" y1="1573" x2="1287.5" y2="1580" stroke="#1f1b1c" stroke-width="2.6"/>
<line x1="1310" y1="1573" x2="1310" y2="1580" stroke="#1f1b1c" stroke-width="2.6"/>
<line x1="1332.5" y1="1573" x2="1332.5" y2="1580" stroke="#1f1b1c" stroke-width="2.6"/>
<polygon points="1007.5,1564 1009,1560 1012,1558 1016,1558 1020,1558.5 1023.5,1561 1024,1569 1018,1570.5 1012,1571 1007.5,1569" fill="#1f1b1c"/>
<rect x="1354" y="1555" width="8.8" height="14.5" fill="#1f1b1c"/>
<rect x="1360.4" y="1555" width="2.6" height="24" fill="#1f1b1c"/>
<rect x="994.5999999999999" y="1551" width="4.4" height="27" fill="#8e8e8e"/>
<rect x="1265.6" y="1551" width="6" height="27" fill="#8e8e8e"/>
<rect x="1331.5" y="1556" width="2.4" height="20" fill="#9a9a9a"/>
</g>
</svg>
</body></html>
